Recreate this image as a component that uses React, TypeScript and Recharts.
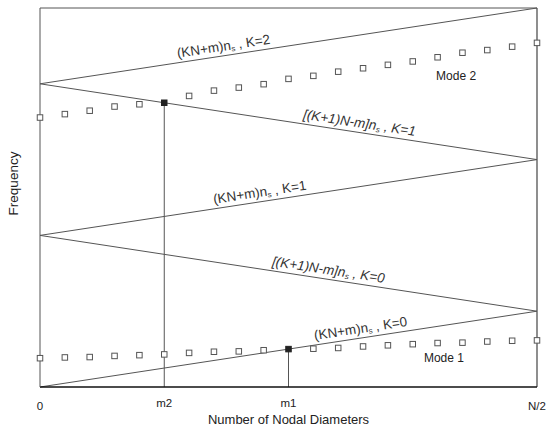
import React from 'react';
import {
  ComposedChart,
  Line,
  Scatter,
  XAxis,
  YAxis,
  ReferenceLine,
  ReferenceDot,
  Label,
} from 'recharts';

// ---- data ----
const diameters = [0, 1, 2, 3, 4, 5, 6, 7, 8, 9, 10, 11, 12, 13, 14, 15, 16, 17, 18, 19, 20];
const mode1Freq = [0.76, 0.78, 0.79, 0.82, 0.84, 0.86, 0.9, 0.93, 0.94, 0.97, 1.0, 1.01, 1.03, 1.07, 1.1, 1.13, 1.16, 1.17, 1.2, 1.22, 1.23];
const mode2Freq = [7.11, 7.2, 7.29, 7.4, 7.46, 7.5, 7.68, 7.82, 7.9, 7.99, 8.13, 8.21, 8.32, 8.41, 8.5, 8.59, 8.7, 8.82, 8.89, 8.98, 9.08];
const branchX = [0, 20, 0, 20, 0, 20];
const branchFreq = [0, 2, 4, 6, 8, 10];
const xTicks = [0, 5, 10, 20];
const xTickLabels = ['0', 'm2', 'm1', 'N/2'];
const m1 = 10;
const m2 = 5;
const curveLabels = [
  { branch: 0, x: 12.96, main: '(KN+m)n', tail: ' , K=0' },
  { branch: 1, x: 11.55, main: '[(K+1)N-m]n', tail: ' , K=0' },
  { branch: 2, x: 8.9, main: '(KN+m)n', tail: ' , K=1' },
  { branch: 3, x: 12.8, main: '[(K+1)N-m]n', tail: ' , K=1' },
  { branch: 4, x: 7.44, main: '(KN+m)n', tail: ' , K=2' },
];
const modeLabels = [
  { text: 'Mode 1', x: 15.45, y: 0.66 },
  { text: 'Mode 2', x: 15.94, y: 8.1 },
];

const branchData = branchX.map((x, i) => ({ x, y: branchFreq[i] }));
const mode1Data = diameters.map((x, i) => ({ x, y: mode1Freq[i] }));
const mode2Data = diameters.map((x, i) => ({ x, y: mode2Freq[i] }));

const W = 553;
const H = 434;
const M = { top: 8, right: 16, bottom: 0, left: 0 };
const Y_W = 40;
const X_H = 47;
const plotW = W - M.left - M.right - Y_W;
const plotH = H - M.top - M.bottom - X_H;
const X_MAX = 20;
const Y_MAX = 10;
const slopePx = ((2 / 20) * (plotH / Y_MAX)) / (plotW / X_MAX);
const angleDeg = (Math.atan(slopePx) * 180) / Math.PI;

const FONT = '"Liberation Sans", Arial, Helvetica, sans-serif';

const branchValue = (b: number, x: number) => {
  const x0 = branchX[b], x1 = branchX[b + 1];
  const f0 = branchFreq[b], f1 = branchFreq[b + 1];
  return f0 + ((f1 - f0) * (x - x0)) / (x1 - x0);
};

const SquareShape = (props: any) => {
  const { cx, cy, payload, special } = props;
  if (cx == null || cy == null) return null;
  const filled = payload && payload.x === special;
  const s = 5.5;
  return (
    <rect
      x={cx - s / 2}
      y={cy - s / 2}
      width={s}
      height={s}
      fill={filled ? '#222' : '#fff'}
      stroke={filled ? '#222' : '#555'}
      strokeWidth={1}
    />
  );
};

const XTick = (props: any) => {
  const { x, y, payload } = props;
  const idx = xTicks.indexOf(payload.value);
  const lbl = xTickLabels[idx] ?? '';
  const low = lbl === '0' || lbl === 'N/2';
  return (
    <text
      x={x}
      y={y + (low ? 21 : 18)}
      textAnchor="middle"
      fontFamily={FONT}
      fontSize={11.5}
      fill="#222"
    >
      {lbl}
    </text>
  );
};

export default function App() {
  return (
    <div style={{ position: 'absolute', left: 0, top: 0, background: '#fff' }}>
      <ComposedChart width={W} height={H} margin={M}>
        <XAxis
          type="number"
          dataKey="x"
          domain={[0, X_MAX]}
          ticks={xTicks}
          height={X_H}
          tickLine={false}
          tickSize={0}
          axisLine={{ stroke: '#111', strokeWidth: 1.6 }}
          tick={<XTick />}
          interval={0}
        >
          <Label
            content={(p: any) => {
              const vb = p.viewBox;
              return (
                <text
                  x={vb.x + vb.width / 2}
                  y={H - 10}
                  textAnchor="middle"
                  fontFamily={FONT}
                  fontSize={13}
                  fill="#222"
                >
                  Number of Nodal Diameters
                </text>
              );
            }}
          />
        </XAxis>
        <YAxis
          type="number"
          dataKey="y"
          domain={[0, Y_MAX]}
          width={Y_W}
          tick={false}
          tickLine={false}
          axisLine={{ stroke: '#555', strokeWidth: 1 }}
        >
          <Label
            content={(p: any) => {
              const vb = p.viewBox;
              const cy = vb.y + vb.height / 2 - 14;
              return (
                <text
                  transform={`translate(${vb.x + 18}, ${cy}) rotate(-90)`}
                  textAnchor="middle"
                  fontFamily={FONT}
                  fontSize={13.5}
                  fill="#222"
                >
                  Frequency
                </text>
              );
            }}
          />
        </YAxis>
        <ReferenceLine y={Y_MAX} stroke="#555" strokeWidth={1} />
        <ReferenceLine x={X_MAX} stroke="#444" strokeWidth={1.2} />
        <ReferenceLine
          segment={[{ x: m2, y: 0 }, { x: m2, y: mode2Freq[m2] }]}
          stroke="#555"
          strokeWidth={1}
        />
        <ReferenceLine
          segment={[{ x: m1, y: 0 }, { x: m1, y: mode1Freq[m1] }]}
          stroke="#555"
          strokeWidth={1}
        />
        <Line
          data={branchData}
          dataKey="y"
          type="linear"
          stroke="#555"
          strokeWidth={1}
          dot={false}
          activeDot={false}
          isAnimationActive={false}
        />
        <Scatter
          data={mode1Data}
          dataKey="y"
          isAnimationActive={false}
          shape={(p: any) => <SquareShape {...p} special={m1} />}
        />
        <Scatter
          data={mode2Data}
          dataKey="y"
          isAnimationActive={false}
          shape={(p: any) => <SquareShape {...p} special={m2} />}
        />
        {curveLabels.map((l, i) => {
          const rising = branchFreq[l.branch + 1] > branchFreq[l.branch]
            ? branchX[l.branch + 1] > branchX[l.branch]
            : branchX[l.branch + 1] < branchX[l.branch];
          const ang = rising ? -angleDeg : angleDeg;
          const italic = l.main.startsWith('[');
          return (
            <ReferenceDot
              key={'cl' + i}
              x={l.x}
              y={branchValue(l.branch, l.x)}
              r={0}
              isFront
              shape={(p: any) => (
                <text
                  x={p.cx}
                  y={p.cy - 5}
                  transform={`rotate(${ang}, ${p.cx}, ${p.cy})`}
                  textAnchor="middle"
                  fontFamily={FONT}
                  fontSize={13.5}
                  fontStyle={italic ? 'italic' : 'normal'}
                  fill="#333"
                >
                  {l.main}
                  <tspan fontSize={8} dy={2}>s</tspan>
                  <tspan dy={-2}>{l.tail}</tspan>
                </text>
              )}
            />
          );
        })}
        {modeLabels.map((m, i) => (
          <ReferenceDot
            key={'ml' + i}
            x={m.x}
            y={m.y}
            r={0}
            isFront
            shape={(p: any) => (
              <text x={p.cx} y={p.cy} fontFamily={FONT} fontSize={12} fill="#222">
                {m.text}
              </text>
            )}
          />
        ))}
      </ComposedChart>
    </div>
  );
}
